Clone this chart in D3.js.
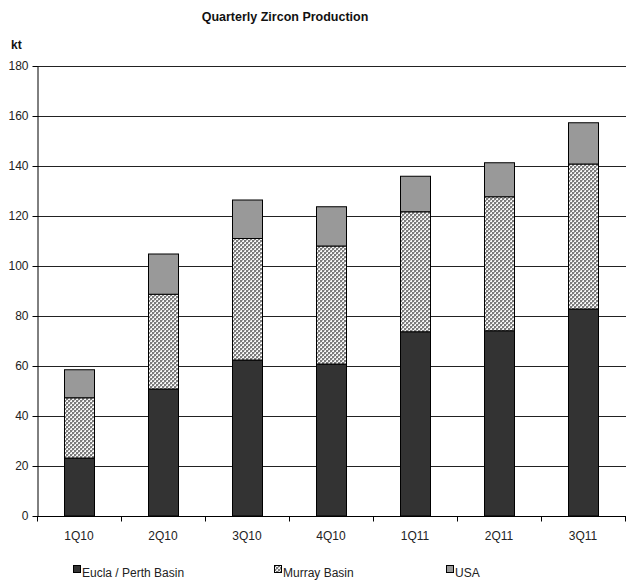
<!DOCTYPE html>
<html>
<head>
<meta charset="utf-8">
<script src="https://cdn.jsdelivr.net/npm/d3@7"></script>
<style>
  html, body { margin: 0; padding: 0; background: #fff; }
  svg { display: block; font-family: "Liberation Sans", Arial, sans-serif; }
</style>
</head>
<body>
<svg id="chart" width="626" height="581"></svg>
<script>
// Quarterly zircon output (kt) by region
const quarters = ["1Q10", "2Q10", "3Q10", "4Q10", "1Q11", "2Q11", "3Q11"];
const euclaPerth = [23.2, 50.8, 62.4, 60.8, 73.7, 74.1, 82.8];
const murrayBasin = [24.1, 37.9, 48.6, 47.2, 48.0, 53.6, 58.0];
const usa = [11.2, 16.1, 15.4, 15.7, 14.2, 13.6, 16.5];
const seriesNames = ["Eucla / Perth Basin", "Murray Basin", "USA"];
const yTicks = [0, 20, 40, 60, 80, 100, 120, 140, 160, 180];

const rows = quarters.map((q, i) => ({
  quarter: q,
  "Eucla / Perth Basin": euclaPerth[i],
  "Murray Basin": murrayBasin[i],
  "USA": usa[i]
}));

const svg = d3.select("#chart");
const plotLeft = 37, plotRight = 625, plotTop = 66, plotBottom = 516;

// Checkered fill for Murray Basin
const defs = svg.append("defs");
const pat = defs.append("pattern")
  .attr("id", "murray")
  .attr("width", 4).attr("height", 4)
  .attr("patternUnits", "userSpaceOnUse");
pat.append("rect").attr("width", 4).attr("height", 4).attr("fill", "#f6f6f6");
[[0, 0], [2, 2]].forEach(([px, py]) =>
  pat.append("rect").attr("x", px).attr("y", py).attr("width", 2).attr("height", 2).attr("fill", "#7c7c7c"));
[[2, 0], [0, 2]].forEach(([px, py]) =>
  pat.append("rect").attr("x", px).attr("y", py).attr("width", 1).attr("height", 1).attr("fill", "#b4b4b4"));

const fills = {
  "Eucla / Perth Basin": "#333333",
  "Murray Basin": "url(#murray)",
  "USA": "#999999"
};

const x = d3.scaleBand().domain(quarters).range([plotLeft, plotRight])
  .paddingInner(0.643).paddingOuter(0.3215);
const y = d3.scaleLinear().domain([0, 180]).range([plotBottom, plotTop]);

// Gridlines
svg.append("g")
  .selectAll("line")
  .data(yTicks.filter(d => d > 0))
  .join("line")
  .attr("x1", plotLeft).attr("x2", 626)
  .attr("y1", d => Math.round(y(d)) + 0.5).attr("y2", d => Math.round(y(d)) + 0.5)
  .attr("stroke", "#222").attr("stroke-width", 1);

// Stacked bars
const stack = d3.stack().keys(seriesNames)(rows);
svg.append("g")
  .selectAll("g")
  .data(stack)
  .join("g")
  .attr("fill", d => fills[d.key])
  .selectAll("rect")
  .data(d => d)
  .join("rect")
  .attr("x", d => Math.round(x(d.data.quarter)) + 0.5)
  .attr("y", d => y(d[1]))
  .attr("width", Math.round(x.bandwidth()))
  .attr("height", d => y(d[0]) - y(d[1]))
  .attr("stroke", "#000").attr("stroke-width", 1);

// Y axis
const yAxis = svg.append("g")
  .attr("transform", `translate(${plotLeft + 0.5},0)`)
  .call(d3.axisLeft(y).tickValues(yTicks).tickSize(5).tickPadding(4).tickSizeOuter(0));
yAxis.select(".domain").attr("stroke", "#000");
yAxis.selectAll(".tick line").attr("stroke", "#000");
yAxis.selectAll("text").attr("font-size", 12).attr("fill", "#222")
  .attr("font-family", "Liberation Sans, Arial, sans-serif");

// X axis with tick marks between categories
const xAxis = svg.append("g").attr("transform", `translate(0,${plotBottom + 0.5})`);
xAxis.append("line").attr("x1", plotLeft).attr("x2", 626).attr("stroke", "#000");
const boundaries = quarters.map((q, i) => plotLeft + i * x.step());
boundaries.push(plotRight);
xAxis.selectAll("line.tk")
  .data(boundaries)
  .join("line")
  .attr("class", "tk")
  .attr("x1", d => Math.round(d) + 0.5).attr("x2", d => Math.round(d) + 0.5)
  .attr("y1", 0).attr("y2", 5)
  .attr("stroke", "#000");
xAxis.selectAll("text")
  .data(quarters)
  .join("text")
  .attr("x", d => x(d) + x.bandwidth() / 2)
  .attr("y", 23.5)
  .attr("text-anchor", "middle")
  .attr("font-size", 12).attr("fill", "#222")
  .text(d => d);

// Title and unit label
svg.append("text")
  .attr("x", 285).attr("y", 21)
  .attr("text-anchor", "middle")
  .attr("font-size", 12.5).attr("font-weight", "bold").attr("fill", "#111")
  .text("Quarterly Zircon Production");
svg.append("text")
  .attr("x", 11).attr("y", 49)
  .attr("font-size", 12).attr("font-weight", "bold").attr("fill", "#111")
  .text("kt");

// Legend
const legendX = [73, 274, 446];
const legend = svg.append("g")
  .selectAll("g")
  .data(seriesNames)
  .join("g")
  .attr("transform", (d, i) => `translate(${legendX[i]},565)`);
legend.append("rect")
  .attr("x", 0.5).attr("y", 0.5).attr("width", 7).attr("height", 7)
  .attr("fill", d => fills[d]).attr("stroke", "#000");
legend.append("text")
  .attr("x", 9).attr("y", 12)
  .attr("font-size", 12).attr("fill", "#222")
  .text(d => d);
</script>
</body>
</html>
